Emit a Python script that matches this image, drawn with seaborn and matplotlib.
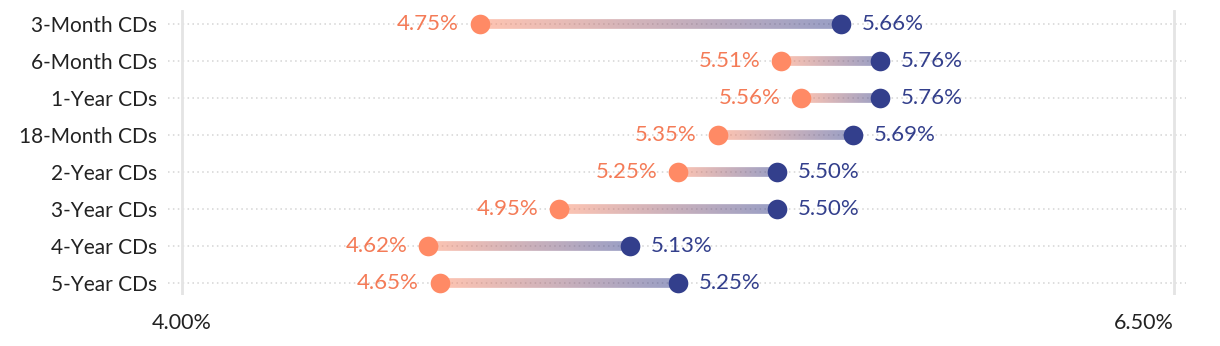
import numpy as np
import pandas as pd
import matplotlib
matplotlib.use("Agg")
import matplotlib.pyplot as plt
import seaborn as sns
from matplotlib.collections import LineCollection
from matplotlib.colors import to_rgb
import matplotlib.transforms as mtransforms

categories = ['3-Month CDs', '6-Month CDs', '1-Year CDs', '18-Month CDs',
              '2-Year CDs', '3-Year CDs', '4-Year CDs', '5-Year CDs']
low_rates = [4.75, 5.51, 5.56, 5.35, 5.25, 4.95, 4.62, 4.65]
high_rates = [5.66, 5.76, 5.76, 5.69, 5.50, 5.50, 5.13, 5.25]
x_ticks = [4.00, 6.50]
x_tick_labels = ['4.00%', '6.50%']

ORANGE = '#FF8A65'
ORANGE_TXT = '#F47B57'
BLUE = '#333F8C'

sns.set_theme(style='white')
plt.rcParams['font.family'] = ['Lato', 'DejaVu Sans']

fig = plt.figure(figsize=(12.2, 3.46), dpi=100)
ax = fig.add_axes([168 / 1220, 1 - 295 / 346, (1186 - 168) / 1220, (295 - 10) / 346])

df = pd.DataFrame({'cat': categories, 'low': low_rates, 'high': high_rates})

# gradient connectors
c0 = np.array(to_rgb(ORANGE))
c1 = np.array(to_rgb(BLUE))
for i, row in df.iterrows():
    xs = np.linspace(row['low'], row['high'], 120)
    ys = np.full_like(xs, i, dtype=float)
    pts = np.column_stack([xs, ys])
    segs = np.stack([pts[:-1], pts[1:]], axis=1)
    t = np.linspace(0, 1, len(segs))[:, None]
    cols = (1 - t) * c0 + t * c1
    cols = np.hstack([cols, np.full((len(segs), 1), 0.5)])
    lc = LineCollection(segs, colors=cols, linewidths=7.0, capstyle='butt', zorder=2)
    ax.add_collection(lc)

sns.scatterplot(data=df, x='low', y='cat', color=ORANGE, s=200, linewidth=0, zorder=3, ax=ax)
sns.scatterplot(data=df, x='high', y='cat', color=BLUE, s=200, linewidth=0, zorder=3, ax=ax)

off_l = mtransforms.offset_copy(ax.transData, fig=fig, x=-15, y=0, units='points')
off_r = mtransforms.offset_copy(ax.transData, fig=fig, x=15, y=0, units='points')
for i, row in df.iterrows():
    ax.text(row['low'], i, f"{row['low']:.2f}%", transform=off_l, ha='right', va='center',
            color=ORANGE_TXT, fontsize=16)
    ax.text(row['high'], i, f"{row['high']:.2f}%", transform=off_r, ha='left', va='center',
            color=BLUE, fontsize=16)

ax.set_xlim(4 - 14 / 396.8, 6.5 + 12 / 396.8)
ax.set_ylim(7.32, -0.38)

for x in x_ticks:
    ax.axvline(x, color='#e4e4e4', lw=2, zorder=1)
for i in range(len(categories)):
    ax.axhline(i, color='#d4d4d4', lw=1.1, linestyle=(0, (1, 2.2)), zorder=0)

ax.set_xticks(x_ticks)
ax.set_xticklabels(x_tick_labels, fontsize=15.5, color='#222222')
labs = ax.get_xticklabels()
labs[0].set_ha('center')
labs[-1].set_ha('right')
ax.tick_params(axis='x', length=0, pad=13)
ax.set_yticks(range(len(categories)))
ax.set_yticklabels(categories, fontsize=15, color='#222222')
ax.tick_params(axis='y', length=0, pad=8)
ax.set_xlabel('')
ax.set_ylabel('')
for s in ax.spines.values():
    s.set_visible(False)
ax.grid(False)

fig.savefig('out.png', dpi=100)
